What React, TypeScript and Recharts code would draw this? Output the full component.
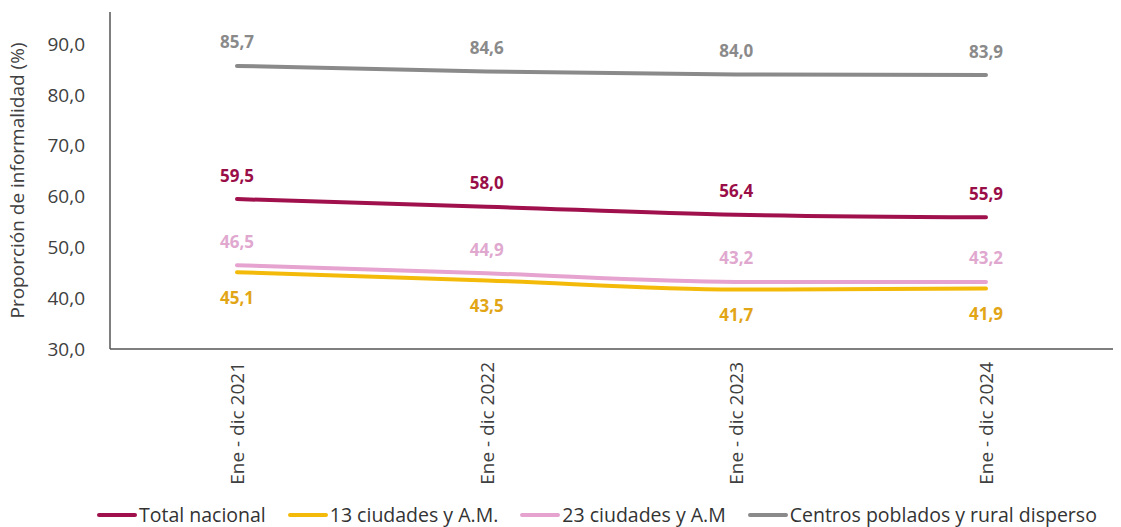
import React from 'react'
import { LineChart, Line, XAxis, YAxis, Legend, LabelList } from 'recharts'

const periods = ['Ene - dic 2021', 'Ene - dic 2022', 'Ene - dic 2023', 'Ene - dic 2024']
const totalNacional = [59.5, 58.0, 56.4, 55.9]
const ciudades13 = [45.1, 43.5, 41.7, 41.9]
const ciudades23 = [46.5, 44.9, 43.2, 43.2]
const centrosRural = [85.7, 84.6, 84.0, 83.9]
const yTicks = [30, 40, 50, 60, 70, 80, 90]

const data = periods.map((p, i) => ({
  period: p,
  total: totalNacional[i],
  c13: ciudades13[i],
  c23: ciudades23[i],
  rural: centrosRural[i],
}))

const FONT = "'Open Sans', 'Noto Sans', sans-serif"

const series = [
  { key: 'total', name: 'Total nacional', color: '#A0104C', label: '#9A0E48', above: true },
  { key: 'c13', name: '13 ciudades y A.M.', color: '#F4BA0A', label: '#E2A516', above: false },
  { key: 'c23', name: '23 ciudades y A.M', color: '#E6A3CF', label: '#E0A8CF', above: true },
  { key: 'rural', name: 'Centros poblados y rural disperso', color: '#8A8A8A', label: '#8A8A8A', above: true },
]

const fmt = (v: number) => v.toFixed(1).replace('.', ',')

const makeLabel = (color: string, above: boolean) => (props: any) => {
  const { x, y, value } = props
  return (
    <text
      x={x}
      y={above ? y - 24 : y + 25}
      fill={color}
      fontSize={17}
      fontWeight={700}
      fontFamily={FONT}
      textAnchor="middle"
      dominantBaseline="central"
    >
      {fmt(value)}
    </text>
  )
}

const XTick = (props: any) => {
  const { x, y, payload } = props
  return (
    <text
      transform={`translate(${x},${y}) rotate(-90)`}
      textAnchor="end"
      dominantBaseline="central"
      fontSize={19}
      fontFamily={FONT}
      fill="#404040"
    >
      {payload.value}
    </text>
  )
}

const LegendContent = () => (
  <div
    style={{
      display: 'flex',
      flexWrap: 'nowrap',
      justifyContent: 'flex-start',
      fontFamily: FONT,
      fontSize: 19.5,
      lineHeight: '24px',
      color: '#333',
      paddingLeft: 97,
      whiteSpace: 'nowrap',
    }}
  >
    {series.map((s) => (
      <div key={s.key} style={{ display: 'flex', alignItems: 'center', marginRight: 22, flexShrink: 0 }}>
        <span style={{ display: 'inline-block', width: 40, height: 4, borderRadius: 2, background: s.color, marginRight: 2 }} />
        <span>{s.name}</span>
      </div>
    ))}
  </div>
)

export default function App() {
  return (
    <div style={{ margin: '-8px 0 0 -8px', background: '#fff', width: 1121, height: 527 }}>
      <LineChart width={1121} height={527} data={data} margin={{ top: 12, right: 8, bottom: 0, left: 0 }}>
        <XAxis
          dataKey="period"
          tick={<XTick />}
          tickLine={false}
          axisLine={{ stroke: '#555', strokeWidth: 1.5 }}
          height={154}
          interval={0}
          tickSize={4}
          tickMargin={9}
          padding={{ left: 127, right: 127 }}
        />
        <YAxis
          domain={[30, 96.3]}
          ticks={yTicks}
          tickFormatter={fmt}
          tickLine={false}
          axisLine={{ stroke: '#555', strokeWidth: 1.5 }}
          width={110}
          tickSize={8}
          tickMargin={17}
          tick={{ fontSize: 19, fill: '#404040', fontFamily: FONT }}
          label={{
            value: 'Proporción de informalidad (%)',
            angle: -90,
            position: 'insideLeft',
            dx: 12,
            dy: 0,
            style: { textAnchor: 'middle', fontSize: 19, fill: '#404040', fontFamily: FONT },
          }}
        />
        <Legend
          verticalAlign="bottom"
          content={<LegendContent />}
          wrapperStyle={{ bottom: 0, left: 0, width: 1121 }}
        />
        {series.map((s) => (
          <Line
            key={s.key}
            dataKey={s.key}
            name={s.name}
            type="monotone"
            stroke={s.color}
            strokeWidth={4}
            strokeLinecap="round"
            dot={false}
            isAnimationActive={false}
          >
            <LabelList dataKey={s.key} content={makeLabel(s.label, s.above)} />
          </Line>
        ))}
      </LineChart>
    </div>
  )
}
